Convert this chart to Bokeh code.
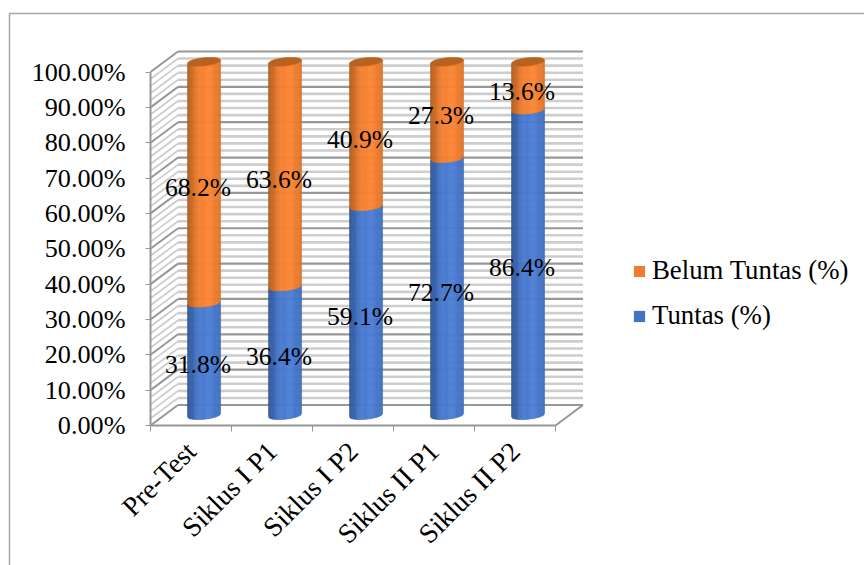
import math

from bokeh.core.properties import value
from bokeh.embed import file_html
from bokeh.models import FixedTicker, Legend, LegendItem, LinearAxis, PrintfTickFormatter, Range1d
from bokeh.plotting import figure
from bokeh.resources import INLINE

categories = ["Pre-Test", "Siklus I P1", "Siklus I P2", "Siklus II P1", "Siklus II P2"]
tuntas = [31.8, 36.4, 59.1, 72.7, 86.4]
belum_tuntas = [68.2, 63.6, 40.9, 27.3, 13.6]
value_ticks = list(range(0, 101, 10))

SERIF = "Liberation Serif"
TEXT_SIZE = "25.6px"

# Page geometry: one category slot and one percent, in pixels.
SLOT_PX = 81.0
PCT_PX = 3.535
ORIGIN_X = 150.0
ORIGIN_Y = 425.0
WIDTH, HEIGHT = 864, 565

# Oblique depth of the 3D box, in data units.
DEPTH_X = 27.5 / SLOT_PX
DEPTH_Y = 20.5 / PCT_PX

p = figure(
    width=WIDTH, height=HEIGHT, output_backend="svg", toolbar_location=None,
    x_axis_type=None, y_axis_type=None, min_border=0,
    x_range=Range1d(-ORIGIN_X / SLOT_PX, (WIDTH - ORIGIN_X) / SLOT_PX),
    y_range=Range1d((ORIGIN_Y - HEIGHT) / PCT_PX, ORIGIN_Y / PCT_PX),
    background_fill_color="white", border_fill_color="white", outline_line_color=None,
)
p.grid.visible = False

# Chart frame: top and left edges only reach the page.
fx = (9.0 - ORIGIN_X) / SLOT_PX
fy = (ORIGIN_Y - 13) / PCT_PX
p.line([fx, fx], [(ORIGIN_Y - HEIGHT) / PCT_PX, fy], line_color="#A6A6A6", line_width=1.5)
p.line([fx, (WIDTH - ORIGIN_X) / SLOT_PX], [fy, fy], line_color="#A6A6A6", line_width=1.5)

# Wall gridlines: minor every 2 %, major every 10 %.
n = len(categories)
for is_major, color, back_w, side_w in [(False, "#CDCDCD", 2.6, 1.8), (True, "#979797", 2.2, 2.0)]:
    levels = [v for v in range(0, 101, 2) if (v % 10 == 0) == is_major]
    p.multi_line([[DEPTH_X, n + DEPTH_X]] * len(levels),
                 [[v + DEPTH_Y, v + DEPTH_Y] for v in levels],
                 line_color=color, line_width=back_w)
    p.multi_line([[0, DEPTH_X]] * len(levels),
                 [[v, v + DEPTH_Y] for v in levels],
                 line_color=color, line_width=side_w)

# Right-hand floor edge of the box.
p.line([n, n + DEPTH_X], [0, DEPTH_Y], line_color="#979797", line_width=2)


def mix(a, b, f):
    ca = [int(a[i:i + 2], 16) for i in (1, 3, 5)]
    cb = [int(b[i:i + 2], 16) for i in (1, 3, 5)]
    return "#%02x%02x%02x" % tuple(round(x + (y - x) * f) for x, y in zip(ca, cb))


HALF_W = 16.5 / SLOT_PX
STRIPS = 30
RY = 4.0 / PCT_PX
TILT = 1.6 / PCT_PX


def front_curve(t):
    return -RY * math.sqrt(max(0.0, 1 - t * t)) + TILT * t


def cylinder(center, low, high, edge, light, cap=None):
    xs, ys, colors = [], [], []
    for i in range(STRIPS):
        t0 = -1 + 2 * i / STRIPS
        t1 = -1 + 2 * (i + 1) / STRIPS
        steps = [t0, (t0 + t1) / 2, t1]
        xs.append([center + t * HALF_W for t in steps] + [center + t * HALF_W for t in reversed(steps)])
        ys.append([low + front_curve(t) for t in steps] + [high + front_curve(t) for t in reversed(steps)])
        mid = (t0 + t1) / 2
        colors.append(mix(edge, light, max(0.0, 1 - (abs(mid - 0.2) / 1.2) ** 2.2)))
    p.patches(xs, ys, fill_color=colors, line_color=colors, line_width=0.6)
    if cap:
        angles = [2 * math.pi * k / 48 for k in range(48)]
        p.patch([center + HALF_W * math.cos(a) for a in angles],
                [high + RY * math.sin(a) + TILT * math.cos(a) for a in angles],
                fill_color=cap, line_color=cap, line_width=0.6)


centers = [i + 0.5 + DEPTH_X / 2 - 0.7 / SLOT_PX for i in range(n)]
for c, t, b in zip(centers, tuntas, belum_tuntas):
    cylinder(c, DEPTH_Y / 2, DEPTH_Y / 2 + t, "#2B5190", "#4B7DD4")
    cylinder(c, DEPTH_Y / 2 + t, DEPTH_Y / 2 + t + b, "#A9591C", "#FA8433", cap="#B8621F")

# Data labels, centred on each segment.
slot_centers = [i + 0.5 for i in range(n)]
p.text(slot_centers, [t / 2 for t in tuntas], text=[f"{t:.1f}%" for t in tuntas],
       text_font=value(SERIF), text_font_size=TEXT_SIZE, text_color="#000000",
       text_align="center", text_baseline="middle", x_offset=7, y_offset=-5)
p.text(slot_centers, [t + b / 2 for t, b in zip(tuntas, belum_tuntas)],
       text=[f"{b:.1f}%" for b in belum_tuntas],
       text_font=value(SERIF), text_font_size=TEXT_SIZE, text_color="#000000",
       text_align="center", text_baseline="middle", x_offset=7, y_offset=-5)

# Axes sit on the front edge of the box.
y_axis = LinearAxis(fixed_location=0, bounds=(0, 100),
                    ticker=FixedTicker(ticks=value_ticks),
                    formatter=PrintfTickFormatter(format="%.2f%%"))
y_axis.axis_line_color = "#979797"
y_axis.axis_line_width = 2
y_axis.major_tick_line_color = "#979797"
y_axis.major_tick_in = 0
y_axis.major_tick_out = 5
y_axis.minor_tick_line_color = None
y_axis.major_label_standoff = 20
y_axis.major_label_text_font = SERIF
y_axis.major_label_text_font_size = "26.2px"
y_axis.major_label_text_color = "#000000"
p.add_layout(y_axis, "left")

x_axis = LinearAxis(fixed_location=0, bounds=(0, n),
                    ticker=FixedTicker(ticks=slot_centers, minor_ticks=list(range(n + 1))))
x_axis.major_label_overrides = {c: name for c, name in zip(slot_centers, categories)}
x_axis.major_label_orientation = math.pi / 4
x_axis.axis_line_color = "#979797"
x_axis.axis_line_width = 2
x_axis.major_tick_line_color = None
x_axis.minor_tick_line_color = "#979797"
x_axis.minor_tick_in = 0
x_axis.minor_tick_out = 6
x_axis.major_label_standoff = 15
x_axis.major_label_text_font = SERIF
x_axis.major_label_text_font_size = "27.5px"
x_axis.major_label_text_color = "#000000"
p.add_layout(x_axis, "below")

# Legend swatches come from off-scale quads in the flat series colours.
nan = float("nan")
orange_key = p.quad(left=[nan], right=[nan], top=[nan], bottom=[nan], fill_color="#ED7D31", line_color=None)
blue_key = p.quad(left=[nan], right=[nan], top=[nan], bottom=[nan], fill_color="#4472C4", line_color=None)
legend = Legend(
    items=[LegendItem(label="Belum Tuntas (%)", renderers=[orange_key]),
           LegendItem(label="Tuntas (%)", renderers=[blue_key])],
    location=(632, 234), orientation="vertical",
    glyph_width=14, glyph_height=14, label_standoff=6, spacing=14, padding=0, margin=0,
    border_line_color=None, background_fill_alpha=0,
    label_text_font=SERIF, label_text_font_size="26.8px", label_text_color="#000000",
)
p.add_layout(legend, "center")

open("out.html", "w").write(file_html(p, INLINE))
